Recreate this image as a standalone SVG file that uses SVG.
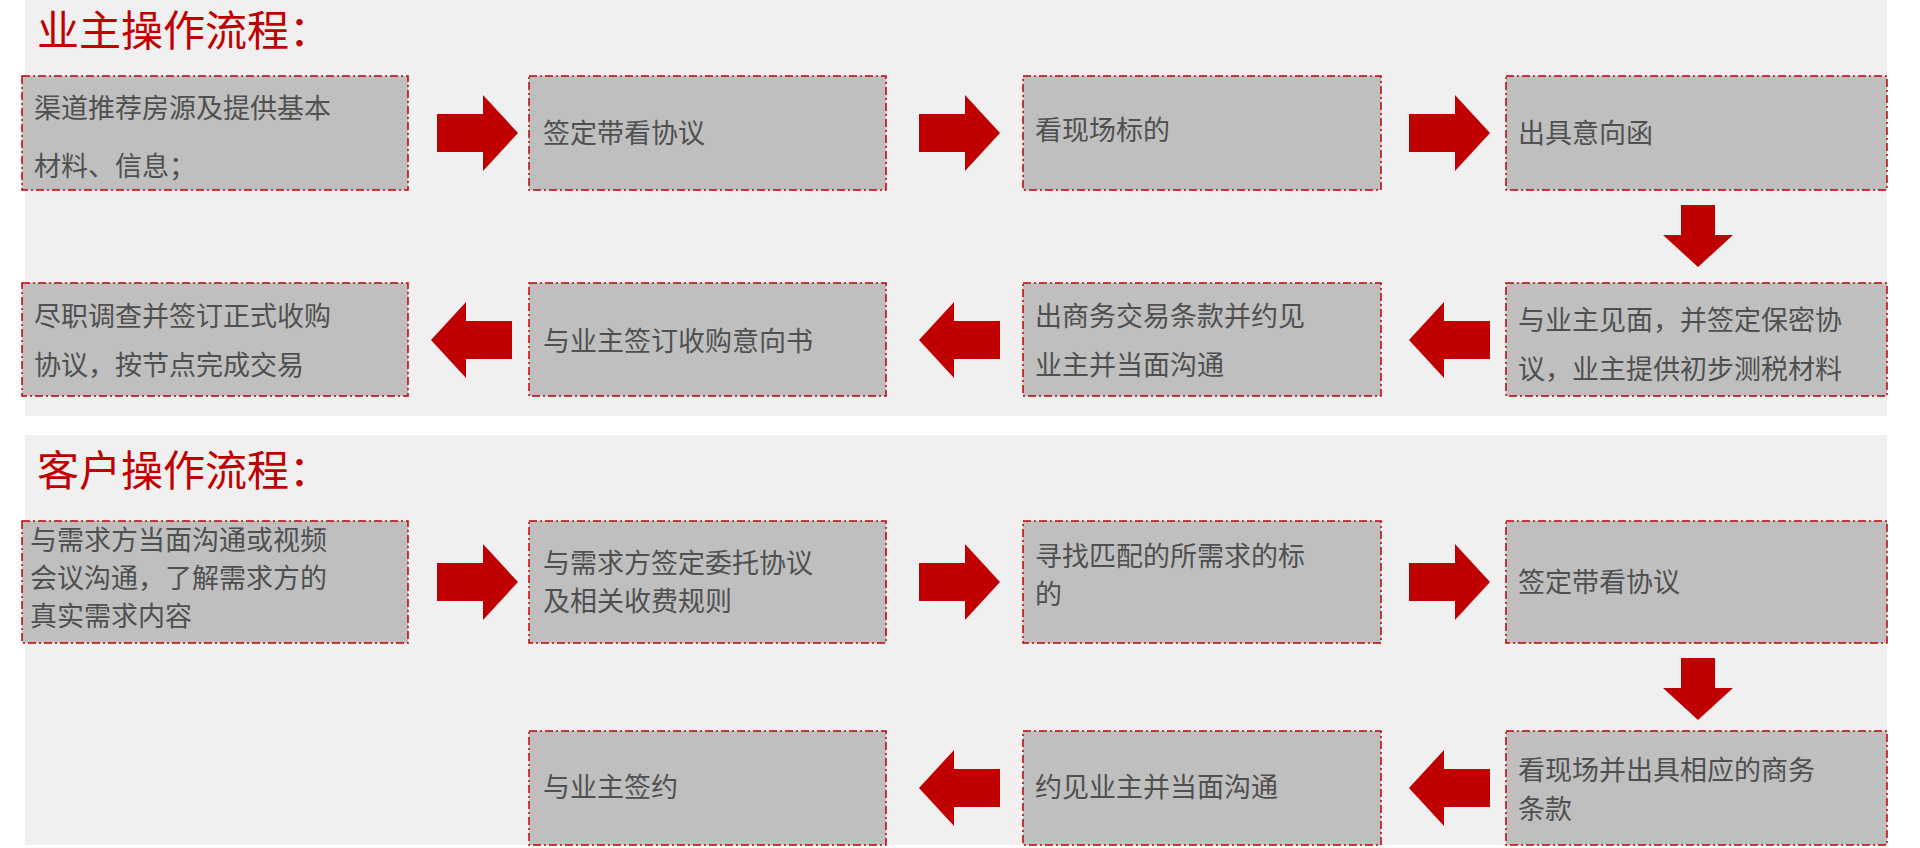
<svg xmlns="http://www.w3.org/2000/svg" width="1920" height="848" viewBox="0 0 1920 848">
<style>
.bg{fill:#f0f0f0}
.box rect{fill:#bfbfbf;stroke:#c00000;stroke-width:1.5;stroke-dasharray:8 3 2 3}
.box text,.t{font-family:"Liberation Sans","Noto Sans CJK SC",sans-serif;font-size:27px;fill:#505050}
.title{font-family:"Liberation Sans","Noto Sans CJK SC",sans-serif;font-size:42px;fill:#c00000}
.ar{fill:#c00000}
</style>
<defs>
<path id="ar" d="M0,-19 H46 V-38 L81,0 L46,38 V19 H0 Z"/>
<path id="dn" d="M-17,0 H17 V30 H35 L0,62 L-35,30 H-17 Z"/>
</defs>
<rect class="bg" x="25" y="0" width="1862" height="416"/>
<rect class="bg" x="25" y="435" width="1862" height="410"/>
<text class="title" x="37" y="46">业主操作流程：</text>
<text class="title" x="37" y="486">客户操作流程：</text>
<g id="n1" class="box"><rect x="22" y="76" width="386" height="114"/><text x="34" y="118">渠道推荐房源及提供基本</text><text x="34" y="176">材料、信息；</text></g>
<g id="n2" class="box"><rect x="529" y="76" width="357" height="114"/><text x="543" y="143">签定带看协议</text></g>
<g id="n3" class="box"><rect x="1023" y="76" width="358" height="114"/><text x="1035" y="140">看现场标的</text></g>
<g id="n4" class="box"><rect x="1506" y="76" width="381" height="114"/><text x="1518" y="143">出具意向函</text></g>
<g id="n5" class="box"><rect x="1506" y="283" width="381" height="113"/><text x="1518" y="330">与业主见面，并签定保密协</text><text x="1518" y="379">议，业主提供初步测税材料</text></g>
<g id="n6" class="box"><rect x="1023" y="283" width="358" height="113"/><text x="1035" y="326">出商务交易条款并约见</text><text x="1035" y="375">业主并当面沟通</text></g>
<g id="n7" class="box"><rect x="529" y="283" width="357" height="113"/><text x="543" y="351">与业主签订收购意向书</text></g>
<g id="n8" class="box"><rect x="22" y="283" width="386" height="113"/><text x="34" y="326">尽职调查并签订正式收购</text><text x="34" y="375">协议，按节点完成交易</text></g>
<g id="n9" class="box"><rect x="22" y="521" width="386" height="122"/><text x="30" y="550">与需求方当面沟通或视频</text><text x="30" y="588">会议沟通，了解需求方的</text><text x="30" y="626">真实需求内容</text></g>
<g id="n10" class="box"><rect x="529" y="521" width="357" height="122"/><text x="543" y="573">与需求方签定委托协议</text><text x="543" y="611">及相关收费规则</text></g>
<g id="n11" class="box"><rect x="1023" y="521" width="358" height="122"/><text x="1035" y="566">寻找匹配的所需求的标</text><text x="1035" y="604">的</text></g>
<g id="n12" class="box"><rect x="1506" y="521" width="381" height="122"/><text x="1518" y="592">签定带看协议</text></g>
<g id="n13" class="box"><rect x="1506" y="731" width="381" height="114"/><text x="1518" y="780">看现场并出具相应的商务</text><text x="1518" y="819">条款</text></g>
<g id="n14" class="box"><rect x="1023" y="731" width="358" height="114"/><text x="1035" y="797">约见业主并当面沟通</text></g>
<g id="n15" class="box"><rect x="529" y="731" width="357" height="114"/><text x="543" y="797">与业主签约</text></g>
<g id="connectors" class="ar">
<use href="#ar" transform="translate(437,133)"/>
<use href="#ar" transform="translate(919,133)"/>
<use href="#ar" transform="translate(1409,133)"/>
<use href="#dn" transform="translate(1698,205)"/>
<use href="#ar" transform="translate(1490,340) scale(-1,1)"/>
<use href="#ar" transform="translate(1000,340) scale(-1,1)"/>
<use href="#ar" transform="translate(512,340) scale(-1,1)"/>
<use href="#ar" transform="translate(437,582)"/>
<use href="#ar" transform="translate(919,582)"/>
<use href="#ar" transform="translate(1409,582)"/>
<use href="#dn" transform="translate(1698,658)"/>
<use href="#ar" transform="translate(1490,788) scale(-1,1)"/>
<use href="#ar" transform="translate(1000,788) scale(-1,1)"/>
</g>
</svg>
